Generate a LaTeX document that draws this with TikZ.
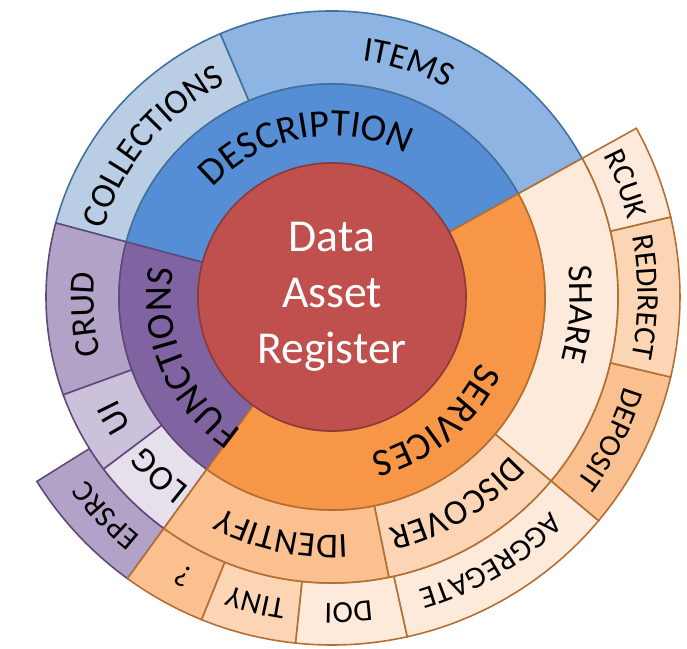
\documentclass[tikz,border=0pt]{standalone}
\usepackage{fontspec}
\setmainfont{Carlito}
\usetikzlibrary{decorations.text}

\definecolor{hubred}{HTML}{C0504D}
\definecolor{hubline}{HTML}{8C3A38}
\definecolor{descblue}{HTML}{558ED5}
\definecolor{itemblue}{HTML}{8EB4E3}
\definecolor{collblue}{HTML}{B9CDE5}
\definecolor{blueline}{HTML}{41719C}
\definecolor{funcpurple}{HTML}{8064A2}
\definecolor{purpleB}{HTML}{B3A2C7}
\definecolor{purpleC}{HTML}{CCC1DA}
\definecolor{purpleD}{HTML}{E6E0EC}
\definecolor{purpleline}{HTML}{5F497A}
\definecolor{servorange}{HTML}{F79646}
\definecolor{orangeB}{HTML}{FAC090}
\definecolor{orangeC}{HTML}{FCD5B5}
\definecolor{orangeD}{HTML}{FDEADA}
\definecolor{orangeline}{HTML}{B46E32}

\tikzset{
  blueseg/.style={fill=#1, draw=blueline, line width=0.9pt},
  purpleseg/.style={fill=#1, draw=purpleline, line width=0.9pt},
  orangeseg/.style={fill=#1, draw=orangeline, line width=0.9pt},
}

% ring piece: style, inner radius, outer radius, from angle, to angle
\newcommand{\seg}[5]{%
  \draw[#1] (#4:#2) arc[start angle=#4, end angle=#5, radius=#2]
    -- (#5:#3) arc[start angle=#5, end angle=#4, radius=#3] -- cycle;}

% curved label: baseline radius, middle angle, font size, text
\newcommand{\seglabel}[4]{%
  \path[decorate, decoration={text along path, text align=center,
      text={|\fontsize{#3}{#3}\selectfont|#4}}]
    ({#2+80}:#1) arc[start angle={#2+80}, end angle={#2-80}, radius=#1];}

\begin{document}
\begin{tikzpicture}
\def\rA{2.68}
\def\rB{4.26}
\def\rC{5.72}
\def\rD{6.96}

\def\bA{3.22}
\def\bB{4.76}
\def\bC{6.12}

\useasboundingbox (-6.64,-7.02) rectangle (7.10,5.94);

% outer ring
\seg{purpleseg=purpleB}{\rC}{\rD}{212}{234}
\seg{orangeseg=orangeB}{\rC}{\rD}{234}{248}
\seg{orangeseg=orangeC}{\rC}{\rD}{248}{264}
\seg{orangeseg=orangeD}{\rC}{\rD}{264}{282.5}
\seg{orangeseg=orangeD}{\rC}{\rD}{282.5}{320}
\seg{orangeseg=orangeB}{\rC}{\rD}{320}{346.7}
\seg{orangeseg=orangeC}{\rC}{\rD}{346.7}{373.3}
\seg{orangeseg=orangeD}{\rC}{\rD}{373.3}{389}

% middle ring
\seg{blueseg=itemblue}{\rB}{\rC}{29}{113}
\seg{blueseg=collblue}{\rB}{\rC}{113}{165}
\seg{purpleseg=purpleB}{\rB}{\rC}{165}{200}
\seg{purpleseg=purpleC}{\rB}{\rC}{200}{217}
\seg{purpleseg=purpleD}{\rB}{\rC}{217}{234}
\seg{orangeseg=orangeB}{\rB}{\rC}{234}{281.5}
\seg{orangeseg=orangeC}{\rB}{\rC}{281.5}{320}
\seg{orangeseg=orangeD}{\rB}{\rC}{320}{389}

% inner ring
\seg{blueseg=descblue}{\rA}{\rB}{29}{165}
\seg{purpleseg=funcpurple}{\rA}{\rB}{165}{234}
\seg{orangeseg=servorange}{\rA}{\rB}{234}{389}

\draw[fill=hubred, draw=hubline, line width=0.9pt] (0,0) circle (\rA);
\node[text=white, align=center, font=\fontsize{26}{32}\selectfont] (hub) at (0,0)
  {Data\\Asset\\Register};

% labels
\seglabel{\bA}{100}{22}{DESCRIPTION}
\seglabel{\bA}{203}{22}{FUNCTIONS}
\seglabel{\bA}{-50}{22}{SERVICES}

\seglabel{\bB}{72}{20}{ITEMS}
\seglabel{\bB}{140}{20}{COLLECTIONS}
\seglabel{\bB}{184}{20}{CRUD}
\seglabel{\bB}{209}{20}{UI}
\seglabel{\bB}{226}{20}{LOG}
\seglabel{\bB}{258}{20}{IDENTIFY}
\seglabel{\bB}{-59}{20}{DISCOVER}
\seglabel{\bB}{-4}{20}{SHARE}

\seglabel{\bC}{224}{17.5}{EPSRC}
\seglabel{\bC}{242}{17.5}{?}
\seglabel{\bC}{256}{17.5}{TINY}
\seglabel{\bC}{273}{17.5}{DOI}
\seglabel{\bC}{-59}{17.5}{AGGREGATE}
\seglabel{\bC}{-27}{17.5}{DEPOSIT}
\seglabel{\bC}{0}{17.5}{REDIRECT}
\seglabel{\bC}{21}{17.5}{RCUK}
\end{tikzpicture}
\end{document}
